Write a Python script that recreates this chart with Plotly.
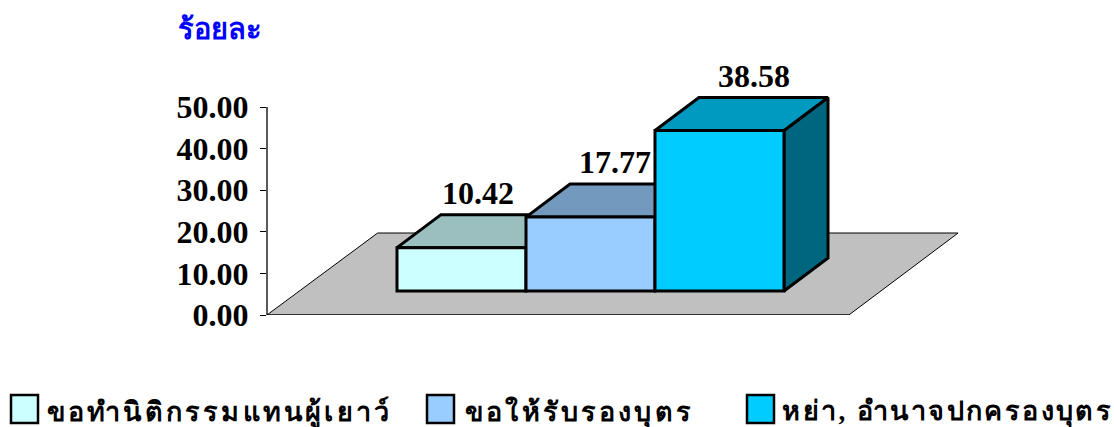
import plotly.graph_objects as go

categories = ["ขอทำนิติกรรมแทนผู้เยาว์", "ขอให้รับรองบุตร", "หย่า, อำนาจปกครองบุตร"]
values = [10.42, 17.77, 38.58]
value_labels = ["10.42", "17.77", "38.58"]
tick_values = [0, 10, 20, 30, 40, 50]
tick_labels = ["0.00", "10.00", "20.00", "30.00", "40.00", "50.00"]
front_colors = ["#CCFFFF", "#99CCFF", "#00CCFF"]
top_colors = ["#9BBFBF", "#7399BF", "#0099BF"]
side_colors = ["#668080", "#4D6680", "#006680"]
unit_title = "ร้อยละ"

W, H = 1114, 427
L, R, T, B = 267, 958, 3, 315
PX_PER_VAL = 208 / 50.0
Y_TOP = (B - T) / PX_PER_VAL
PX_PER_CAT = 129.0
X_ZERO = 461.5
DX = 44 / PX_PER_CAT
DY = 33 / PX_PER_VAL
BASE = 24 / PX_PER_VAL
label_dx_px = [-5.5, 2.5, 12.5]
SERIF = "Liberation Serif, Noto Sans, DejaVu Sans, serif"

fig = go.Figure()

# floor
fl = [-1.508, 3.003, 3.85, -0.65, -1.508, 3.003]
fy = [0, 0, 82 / PX_PER_VAL, 82 / PX_PER_VAL, 0, 0]
fig.add_trace(go.Scatter(x=fl, y=fy, mode="lines", fill="toself", fillcolor="#C0C0C0",
                         line=dict(color="#000000", width=1), hoverinfo="skip",
                         showlegend=False, cliponaxis=False))


def poly(xs, ys, color):
    fig.add_trace(go.Scatter(x=xs + xs[:2], y=ys + ys[:2], mode="lines", fill="toself",
                             fillcolor=color, line=dict(color="#000000", width=3),
                             hoverinfo="skip", showlegend=False, cliponaxis=False))


for i, v in enumerate(values):
    x0, x1 = i - 0.5, i + 0.5
    y0, y1 = BASE, BASE + v
    poly([x1, x1 + DX, x1 + DX, x1], [y0, y0 + DY, y1 + DY, y1], side_colors[i])
    poly([x0, x0 + DX, x1 + DX, x1], [y1, y1 + DY, y1 + DY, y1], top_colors[i])
    poly([x0, x1, x1, x0], [y0, y0, y1, y1], front_colors[i])

# value labels
fig.add_trace(go.Scatter(
    x=[i + DX / 2 + label_dx_px[i] / PX_PER_CAT for i in range(3)],
    y=[BASE + v + DY + 3 / PX_PER_VAL for v in values],
    mode="text", text=value_labels, textposition="top center",
    textfont=dict(family=SERIF, size=32, color="#000000", weight=700),
    hoverinfo="skip", showlegend=False, cliponaxis=False))

fig.update_layout(
    width=W, height=H, margin=dict(l=L, r=W - R, t=T, b=H - B, autoexpand=False),
    paper_bgcolor="#FFFFFF", plot_bgcolor="rgba(0,0,0,0)", showlegend=False,
    xaxis=dict(range=[(L - X_ZERO) / PX_PER_CAT, (R - X_ZERO) / PX_PER_CAT], visible=False, fixedrange=True),
    yaxis=dict(range=[0, Y_TOP], tickvals=tick_values, ticktext=tick_labels, showgrid=False, zeroline=False,
               showline=False, ticks="outside", ticklen=6,
               tickcolor="#000000", tickwidth=1.3, ticklabelstandoff=5,
               tickfont=dict(family=SERIF, size=32, color="#000000", weight=700), fixedrange=True),
)

# y axis line stops at the top tick, as in the reference
fig.add_shape(type="line", xref="paper", yref="y", x0=0, x1=0, y0=0, y1=tick_values[-1],
              line=dict(color="#000000", width=1.3))

fig.add_annotation(text=unit_title, xref="paper", yref="paper", xanchor="left", yanchor="middle",
                   x=(176 - L) / (R - L), y=(B - 29) / (B - T), showarrow=False,
                   font=dict(family=SERIF, size=29, color="#0000FF", weight=700))

legend_box_x = [11, 427, 747]
legend_text_x = [71.5, 482, 801.5]
legend_spacing = [3.2, 3.15, 2.4]
LEG_Y0, LEG_Y1, LEG_TY = 395, 423, 412
for i, c in enumerate(categories):
    fig.add_shape(type="rect", xref="paper", yref="paper",
                  x0=(legend_box_x[i] - L) / (R - L), x1=(legend_box_x[i] + 27 - L) / (R - L),
                  y0=(B - LEG_Y1) / (B - T), y1=(B - LEG_Y0) / (B - T),
                  fillcolor=front_colors[i], line=dict(color="#000000", width=2.5))
    fig.add_annotation(text=c, xref="paper", yref="paper", xanchor="left", yanchor="middle",
                       x=(legend_text_x[i] - L) / (R - L), y=(B - LEG_TY) / (B - T), showarrow=False,
                       font=dict(family=SERIF, size=27, color="#000000", weight=700))

post = """
document.body.style.margin='0';
var sp=%s;
var t=Array.from(document.querySelectorAll('.annotation-text'));
t.slice(-3).forEach(function(e,i){e.style.letterSpacing=sp[i]+'px';});
""" % legend_spacing
fig.write_html("out.html", post_script=post, config={"displayModeBar": False})
